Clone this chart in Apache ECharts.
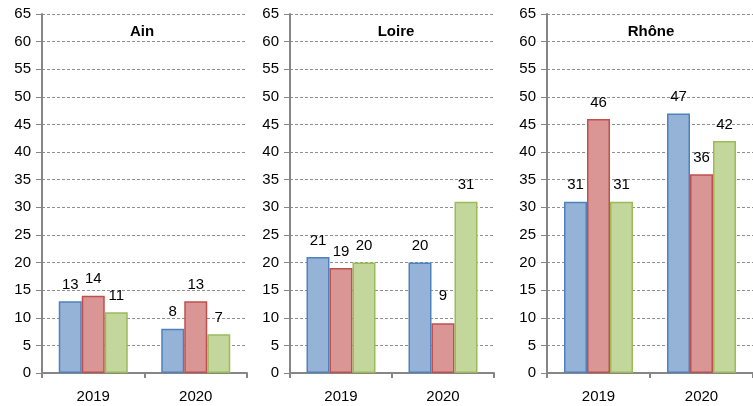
<!DOCTYPE html>
<html>
<head>
<meta charset="utf-8">
<script src="https://cdn.jsdelivr.net/npm/echarts@6/dist/echarts.min.js"></script>
<style>
html,body{margin:0;padding:0;background:#fff;}
#c{width:753px;height:406px;}
</style>
</head>
<body>
<div id="c"></div>
<script>
// ---- data ----
const categories = ['2019', '2020'];
const regions = ['Ain', 'Loire', 'Rhône'];
const ainBlue = [13, 8];
const ainRed = [14, 13];
const ainGreen = [11, 7];
const loireBlue = [21, 20];
const loireRed = [19, 9];
const loireGreen = [20, 31];
const rhoneBlue = [31, 47];
const rhoneRed = [46, 36];
const rhoneGreen = [31, 42];
const yMin = 0, yMax = 65, yStep = 5;

// ---- layout / style ----
const font = 'Liberation Sans';
const grids = [
  {left: 42, top: 14, width: 205, height: 359},
  {left: 290, top: 14, width: 204, height: 359},
  {left: 547, top: 14, width: 210, height: 359}
];
const titleX = [137, 391, 646];
const colors = [
  {fill: '#95B3D7', border: '#4F81BD'},
  {fill: '#D99694', border: '#C0504D'},
  {fill: '#C3D69B', border: '#9BBB59'}
];
const panelData = [
  [ainBlue, ainRed, ainGreen],
  [loireBlue, loireRed, loireGreen],
  [rhoneBlue, rhoneRed, rhoneGreen]
];
const seriesNames = ['Série 1', 'Série 2', 'Série 3'];

const xAxis = [], yAxis = [], series = [], title = [];
grids.forEach((g, p) => {
  xAxis.push({
    type: 'category', gridIndex: p, data: categories,
    axisLine: {lineStyle: {color: '#868686', width: 2}},
    axisTick: {show: true, length: 5, lineStyle: {color: '#868686', width: 2}},
    axisLabel: {color: '#000', fontFamily: font, fontSize: 15, margin: 16}
  });
  yAxis.push({
    type: 'value', gridIndex: p, min: yMin, max: yMax, interval: yStep,
    axisLine: {show: true, lineStyle: {color: '#868686', width: 2}},
    axisTick: {show: true, length: 6, lineStyle: {color: '#868686', width: 1}},
    axisLabel: {color: '#000', fontFamily: font, fontSize: 15, margin: 11},
    splitLine: {show: true, lineStyle: {color: '#8f8f8f', width: 1, type: [3, 2]}}
  });
  title.push({
    text: regions[p], left: titleX[p], top: 19, textAlign: 'center',
    textStyle: {fontFamily: font, fontSize: 15, fontWeight: 'bold', color: '#000'}
  });
  panelData[p].forEach((arr, s) => {
    const data = arr.map((v, i) => (p === 1 && s === 1 && i === 1)
      ? {value: v, label: {distance: 20}} : v);
    series.push({
      type: 'bar', name: seriesNames[s], xAxisIndex: p, yAxisIndex: p,
      data: data, barWidth: 23, barGap: '0%',
      itemStyle: {color: colors[s].fill, borderColor: colors[s].border, borderWidth: 1.5},
      label: {show: true, position: 'top', distance: 9, color: '#000',
              fontFamily: font, fontSize: 15},
      animation: false
    });
  });
});

const chart = echarts.init(document.getElementById('c'));
chart.setOption({
  animation: false,
  title: title,
  grid: grids,
  xAxis: xAxis,
  yAxis: yAxis,
  series: series
});
</script>
</body>
</html>
